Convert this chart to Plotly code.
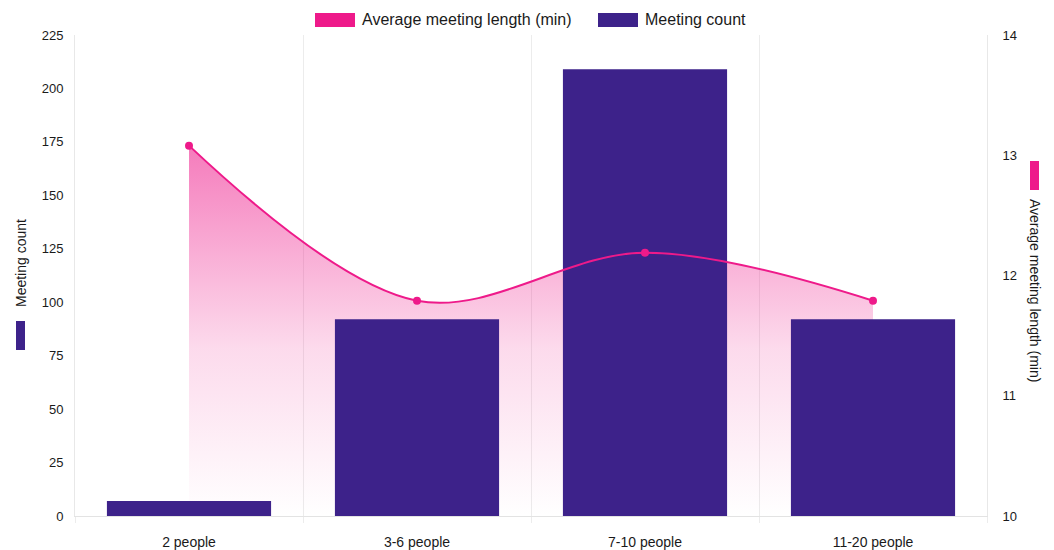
import plotly.graph_objects as go

categories = ["2 people", "3-6 people", "7-10 people", "11-20 people"]
meeting_count = [7, 92, 209, 92]
avg_length = [13.08, 11.79, 12.19, 11.79]

PINK = "#ee1a8a"
PURPLE = "#3d228a"
FONT = "Liberation Sans"
TXT = "#1a1a1a"

W, H = 1054, 550
L, R, T, B = 75, 67, 35, 34
PW, PH = W - L - R, H - T - B


def px(x):
    return (x - L) / PW


def py(y):
    return (H - B - y) / PH


fig = go.Figure()

# gradient area (drawn beneath the bars)
fig.add_trace(go.Scatter(
    x=categories, y=avg_length, name="area",
    mode="lines", yaxis="y", showlegend=False, hoverinfo="skip",
    line=dict(color="rgba(0,0,0,0)", width=0, shape="spline", smoothing=1.0),
    fill="tozeroy",
    fillgradient=dict(
        type="vertical", start=10, stop=13.1,
        colorscale=[[0, "rgba(238,26,138,0.0)"], [0.45, "rgba(238,26,138,0.16)"],
                    [1, "rgba(238,26,138,0.58)"]],
    ),
))

fig.add_trace(go.Bar(
    x=categories, y=meeting_count, name="Meeting count",
    marker=dict(color=PURPLE, line=dict(width=0)), width=0.72,
    yaxis="y2", showlegend=False,
))

fig.add_trace(go.Scatter(
    x=categories, y=avg_length, name="Average meeting length (min)",
    mode="lines+markers", yaxis="y3", showlegend=False,
    line=dict(color=PINK, width=2, shape="spline", smoothing=1.0),
    marker=dict(color=PINK, size=8),
))

shapes = [
    dict(type="rect", xref="paper", yref="paper", x0=px(315), x1=px(355), y0=py(27), y1=py(13),
         fillcolor=PINK, line=dict(width=0)),
    dict(type="rect", xref="paper", yref="paper", x0=px(598), x1=px(638), y0=py(27), y1=py(13),
         fillcolor=PURPLE, line=dict(width=0)),
    dict(type="rect", xref="paper", yref="paper", x0=px(16), x1=px(25), y0=py(350), y1=py(321),
         fillcolor=PURPLE, line=dict(width=0)),
    dict(type="rect", xref="paper", yref="paper", x0=px(1030), x1=px(1039), y0=py(190), y1=py(161),
         fillcolor=PINK, line=dict(width=0)),
]

annotations = [
    dict(text="Average meeting length (min)", xref="paper", yref="paper", x=px(360), y=py(20),
         xanchor="left", yanchor="middle", showarrow=False, font=dict(family=FONT, size=16, color=TXT)),
    dict(text="Meeting count", xref="paper", yref="paper", x=px(643), y=py(20),
         xanchor="left", yanchor="middle", showarrow=False, font=dict(family=FONT, size=16, color=TXT)),
    dict(text="Meeting count", xref="paper", yref="paper", x=px(21), y=py(263),
         xanchor="center", yanchor="middle", textangle=-90, showarrow=False,
         font=dict(family=FONT, size=14, color=TXT)),
    dict(text="Average meeting length (min)", xref="paper", yref="paper", x=px(1035), y=py(290),
         xanchor="center", yanchor="middle", textangle=90, showarrow=False,
         font=dict(family=FONT, size=14, color=TXT)),
]

fig.update_layout(
    width=W, height=H,
    margin=dict(l=L, r=R, t=T, b=B, pad=0),
    plot_bgcolor="white", paper_bgcolor="white",
    font=dict(family=FONT, size=13, color=TXT),
    showlegend=False,
    xaxis=dict(
        type="category", tickson="boundaries", showgrid=True, gridcolor="#ececec", gridwidth=1,
        ticks="outside", ticklen=6, tickcolor="#ececec",
        showline=True, linecolor="#e3e3e3", linewidth=1,
        tickfont=dict(family=FONT, size=14, color=TXT),
        ticklabelstandoff=13, range=[-0.5, 3.5], zeroline=False, automargin=False,
    ),
    yaxis=dict(
        range=[10, 14], visible=False, showgrid=False, zeroline=False, automargin=False,
    ),
    yaxis2=dict(
        range=[0, 225], tickvals=[0, 25, 50, 75, 100, 125, 150, 175, 200, 225],
        overlaying="y", side="left",
        showgrid=False, zeroline=False, showline=True, linecolor="#e8e8e8", linewidth=1,
        ticks="", ticklabelstandoff=8, tickfont=dict(family=FONT, size=13, color=TXT),
        automargin=False,
    ),
    yaxis3=dict(
        range=[10, 14], tickvals=[10, 11, 12, 13, 14], overlaying="y", side="right",
        showgrid=False, zeroline=False, showline=True, linecolor="#e8e8e8", linewidth=1,
        ticks="", ticklabelstandoff=12, tickfont=dict(family=FONT, size=13, color=TXT),
        automargin=False,
    ),
    shapes=shapes,
    annotations=annotations,
)

fig.write_html("out.html", config={"displayModeBar": False},
               post_script="document.body.style.margin='0';")
